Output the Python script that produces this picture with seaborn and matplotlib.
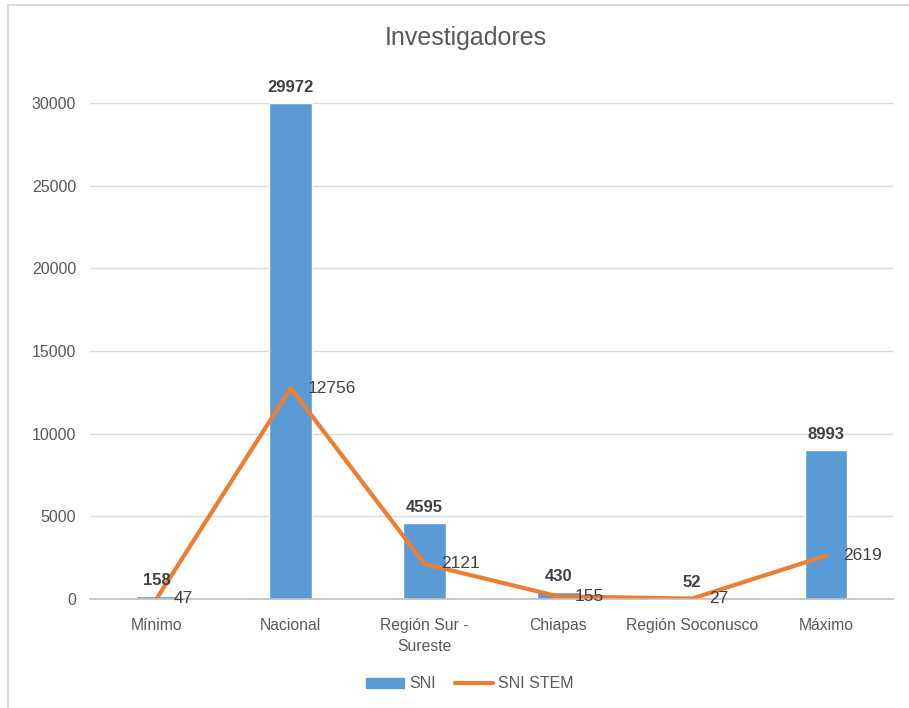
import matplotlib
matplotlib.use("Agg")
import matplotlib.pyplot as plt
import seaborn as sns
import pandas as pd
from matplotlib.patches import Rectangle, Patch
from matplotlib.lines import Line2D

categories = ["Mínimo", "Nacional", "Región Sur -\nSureste", "Chiapas", "Región Soconusco", "Máximo"]
sni = [158, 29972, 4595, 430, 52, 8993]
sni_stem = [47, 12756, 2121, 155, 27, 2619]
yticks = [0, 5000, 10000, 15000, 20000, 25000, 30000]

BLUE = "#5B9BD5"
ORANGE = "#ED7D31"
TXT = "#595959"

sns.set_theme(style="white")
plt.rcParams["font.family"] = ["Liberation Sans", "DejaVu Sans"]

df = pd.DataFrame({"cat": categories, "SNI": sni, "SNI STEM": sni_stem})

fig = plt.figure(figsize=(9.09, 7.08), dpi=100)
ax = fig.add_axes([90/909, 1-599/708, 803/909, 496/708])

sns.barplot(data=df, x="cat", y="SNI", color=BLUE, width=0.32, saturation=1, ax=ax)
sns.lineplot(data=df, x="cat", y="SNI STEM", color=ORANGE, linewidth=3, ax=ax, sort=False)

ax.set_ylim(0, 30000)
ax.set_xlim(-0.5, 5.5)
ax.set_yticks(yticks)
ax.set_yticklabels([str(v) for v in yticks])
ax.grid(axis="y", color="#D9D9D9", linewidth=1)
ax.set_axisbelow(True)
for s in ["top", "right", "left"]:
    ax.spines[s].set_visible(False)
ax.spines["bottom"].set_color("#BFBFBF")
ax.spines["bottom"].set_linewidth(1.2)
ax.set_xlabel("")
ax.set_ylabel("")
ax.tick_params(axis="y", length=0, labelsize=11.5, colors=TXT, pad=10)
ax.tick_params(axis="x", length=0, labelsize=11.3, colors=TXT, pad=14)
for lbl in ax.get_xticklabels():
    lbl.set_linespacing(1.5)

for i, v in enumerate(sni):
    ax.annotate(str(v), (i, v), xytext=(0, 6), textcoords="offset points",
                ha="center", va="bottom", fontsize=12, fontweight="bold",
                color="#404040", annotation_clip=False)
for i, v in enumerate(sni_stem):
    ax.annotate(str(v), (i, v), xytext=(12, 0), textcoords="offset points",
                ha="left", va="center", fontsize=12.5, color="#404040",
                annotation_clip=False)

fig.text(466/909, 1-38/708, "Investigadores", ha="center", va="center",
         fontsize=18, color=TXT)

handles = [Patch(facecolor=BLUE, edgecolor=BLUE),
           Line2D([0], [0], color=ORANGE, linewidth=3)]
leg = fig.legend(handles, ["SNI", "SNI STEM"], loc="center", bbox_to_anchor=(470/909, 1-684/708),
                 ncol=2, frameon=False, fontsize=11.5, handlelength=2.4, handleheight=0.6,
                 columnspacing=1.2, handletextpad=0.3)
for t in leg.get_texts():
    t.set_color(TXT)

fig.patches.append(Rectangle((8/909, -0.1), 1.2, 1 - 5/708 + 0.1, transform=fig.transFigure,
                             fill=False, edgecolor="#D9D9D9", linewidth=1.5))

fig.savefig("out.png", dpi=100, facecolor="white")
